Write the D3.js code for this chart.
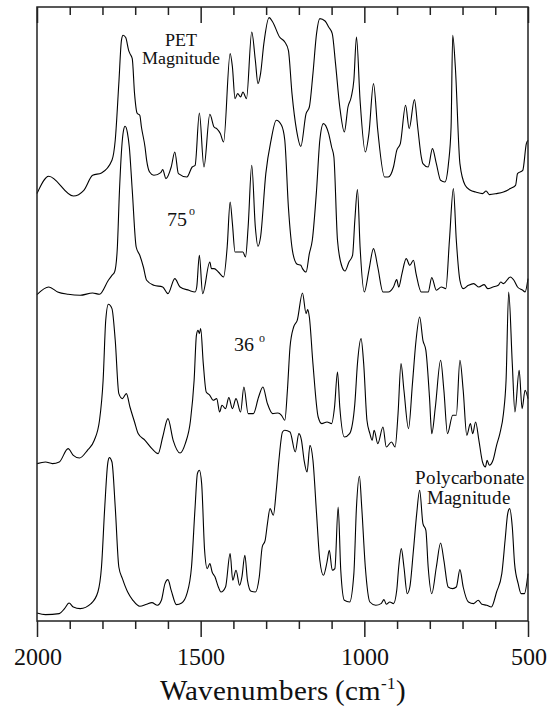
<!DOCTYPE html>
<html><head><meta charset="utf-8">
<script src="https://cdn.jsdelivr.net/npm/d3@7"></script>
<style>
@font-face{font-family:"SerifLocal";src:local("Liberation Serif"),local("LiberationSerif"),local("LiberationSerif-Regular"),local("Times New Roman"),local("TimesNewRomanPSMT"),local("DejaVu Serif"),local("DejaVuSerif");}
body{margin:0;background:#fff}
svg{display:block}
svg text{font-family:"SerifLocal","Liberation Serif","Times New Roman","DejaVu Serif",serif !important}
</style>
</head><body>
<svg id="chart" width="548" height="709"></svg>
<script>
// Tick labels (wavenumbers, cm-1)
const majorTicks = [2000, 1500, 1000, 500];
const minorTicks = [1900, 1800, 1700, 1600, 1400, 1300, 1200, 1100, 900, 800, 700, 600];

// Spectra: [wavenumber, stacked intensity (arbitrary units)]
const petMagnitude = [[2000,427.4],[1964,444.7],[1889,425],[1857,430.7],[1830,445.7],[1803,448],[1771,460.7],[1761,480.7],[1750,537.7],[1742,580.7],[1737,585.7],[1729,583.4],[1720,570.7],[1716,567.4],[1709,562.4],[1702,527.4],[1694,507.7],[1686,505.7],[1681,494],[1670,474],[1665,460.7],[1656,449],[1643,445.7],[1622,448.4],[1616,451.4],[1606,442.4],[1590,454],[1579,469],[1568,447.4],[1542,444],[1526,454],[1517,455.7],[1504,508],[1490,454],[1472,506.7],[1459,494],[1451,492.4],[1440,487.4],[1430,479],[1410,567.4],[1403,554],[1395,522.4],[1387,527.4],[1378,524],[1371,529],[1360,522.4],[1344,589],[1333,560.7],[1325,537.4],[1317,547.4],[1307,577.4],[1291,603.4],[1280,599],[1259,584],[1243,579],[1232,570.7],[1221,527.4],[1207,490.7],[1194,474.7],[1178,507.4],[1168,514],[1157,547.4],[1146,587.4],[1136,602.4],[1120,600],[1109,594],[1098,587.4],[1088,557.4],[1075,514],[1061,489],[1050,514],[1040,524],[1032,540.7],[1024,584],[1013,520.7],[997,469],[986,487.4],[972,537.4],[959,490.7],[938,444],[927,444],[911,454],[901,470.7],[890,477.4],[874,515.7],[863,492.4],[847,521.4],[837,494],[826,464],[821,457.4],[805,454],[792,472.4],[780,457.4],[767,440.7],[754,439],[743,457.4],[735,494],[730,585.7],[722,554],[708,457.4],[692,435.7],[676,430.7],[660,429],[639,427.4],[628,430],[618,426.4],[596,427.4],[575,429],[554,432.4],[538,435.7],[532,447.4],[516,450.7],[505,477.4],[500,480.7]];

const angle75 = [[2000,326.4],[1964,334],[1937,329],[1905,326.7],[1868,325.7],[1830,328],[1809,326.7],[1782,340.7],[1771,345.7],[1763,349],[1755,370.7],[1748,430.7],[1741,474],[1736,490],[1731,494.7],[1724,488.7],[1718,474],[1709,430.7],[1697,374],[1686,365.7],[1675,354],[1665,340.7],[1643,335.7],[1616,334],[1600,327.4],[1579,342.4],[1563,334],[1536,330.7],[1517,329],[1512,334],[1504,365.7],[1494,327.4],[1472,359],[1467,352.4],[1459,352.4],[1446,349],[1430,344],[1419,374],[1410,419],[1403,397.4],[1395,369],[1381,369],[1371,369],[1363,364],[1355,394],[1344,455.7],[1333,394],[1325,374.7],[1317,384],[1301,447.4],[1285,480.7],[1269,500.7],[1253,495.7],[1243,480.7],[1232,414],[1218,367.4],[1205,356.7],[1194,355.7],[1189,352.4],[1178,349],[1168,367.4],[1159,380.7],[1146,430.7],[1136,480.7],[1125,497.4],[1109,487.4],[1100,474],[1093,464],[1082,380.7],[1068,354],[1059,350],[1047,359],[1036,365.7],[1029,400.7],[1021,431.4],[1013,374],[1000,329],[986,350.7],[972,372.4],[959,354],[943,329],[927,329],[911,334],[901,341.4],[895,334],[885,347.4],[872,362.4],[861,355.7],[850,360.7],[842,347.4],[826,329],[805,329],[794,343.4],[780,330.7],[765,334],[751,332.4],[740,380.7],[728,432.4],[719,380.7],[708,340.7],[698,332.4],[682,335.7],[666,337.4],[650,334],[634,336.4],[623,332.4],[607,334],[591,335.7],[583,339],[575,337.4],[554,344],[543,340.7],[532,334],[516,330.7],[509,329],[500,342.4]];

const angle36 = [[2000,157.4],[1974,159],[1953,157.4],[1932,159],[1905,172.4],[1889,165.7],[1870,163],[1846,170.7],[1825,180.7],[1809,200.7],[1798,240.7],[1790,300.7],[1782,316.7],[1771,312.4],[1761,280.7],[1750,227.4],[1739,222.4],[1727,227.4],[1716,214],[1702,199],[1691,187.4],[1670,180.7],[1649,172.4],[1630,167.4],[1616,184],[1600,202.4],[1584,180.7],[1563,168],[1547,177.4],[1531,200.7],[1520,240.7],[1513,285.7],[1508,290.7],[1504,287.4],[1500,292.4],[1492,257.4],[1483,229],[1472,225.7],[1462,220.7],[1451,222.4],[1442,209],[1435,215.7],[1424,212.4],[1414,223.4],[1403,212.4],[1392,222.4],[1378,209],[1368,234],[1355,207.4],[1339,207.4],[1323,224],[1310,234],[1296,217.4],[1280,207.4],[1264,208],[1253,205.7],[1243,200.7],[1235,230.7],[1227,274],[1216,294],[1205,300.7],[1189,328],[1178,307.4],[1173,311.4],[1168,304],[1157,257.4],[1141,204],[1130,197.4],[1114,199],[1100,197.4],[1091,214],[1082,249],[1075,214],[1061,184],[1045,187.4],[1029,217.4],[1021,257.4],[1010,282.4],[1002,257.4],[992,200.7],[983,187.4],[976,180.7],[970,190.7],[959,177.4],[943,194],[933,174],[917,179],[906,174],[897,207.4],[888,257.4],[879,230.7],[865,192.4],[853,237.4],[842,280.7],[831,304],[821,280.7],[812,270.7],[801,224],[794,187.4],[783,214],[767,260.7],[757,230.7],[746,187.4],[730,205.7],[719,205.7],[708,260.7],[698,230.7],[687,185.7],[676,197.4],[669,187.4],[660,199],[650,180.7],[639,159],[630,154],[625,160.7],[618,155.7],[607,160.7],[596,175.7],[586,187.4],[575,207.4],[567,240.7],[559,329],[548,257.4],[540,209],[527,250.7],[518,212.4],[509,230.7],[500,222.4]];

const polycarbonateMagnitude = [[2000,8],[1974,6.4],[1932,7.4],[1916,12.4],[1902,18],[1889,14],[1868,12.4],[1835,17.4],[1814,29],[1803,54],[1793,114],[1784,157.4],[1779,163.4],[1771,159],[1761,114],[1750,54],[1739,42.4],[1723,29],[1707,20.7],[1686,14.7],[1665,16.7],[1649,18.4],[1632,15.7],[1620,20.7],[1609,37.4],[1600,41.4],[1590,30.7],[1574,16.4],[1558,18],[1542,27.4],[1528,54],[1517,114],[1510,147.4],[1504,150.7],[1497,137.4],[1488,70.7],[1480,52.4],[1472,57.4],[1465,49],[1456,44],[1446,34],[1438,29],[1424,34],[1410,67.4],[1402,40.7],[1392,50.7],[1381,35.7],[1374,44],[1365,65.7],[1357,40.7],[1346,29.7],[1333,29],[1321,44],[1312,74],[1303,80.7],[1296,97.4],[1288,112.4],[1278,105.7],[1269,130.7],[1261,160.7],[1250,189],[1243,190.7],[1227,189],[1211,169],[1200,187.4],[1192,180.7],[1184,160.7],[1175,149],[1166,175.7],[1157,160.7],[1146,107.4],[1136,60.7],[1125,45.7],[1114,59],[1107,70.7],[1098,50.7],[1090,52.4],[1080,114],[1072,50.7],[1061,20.7],[1045,19],[1032,47.4],[1024,114],[1015,144.7],[1008,114],[997,54],[983,19],[965,15.7],[949,17.4],[940,21.4],[933,16.7],[922,19],[911,17.4],[901,30.7],[895,54],[887,72.4],[879,54],[869,27.4],[861,34],[850,70.7],[840,107.4],[831,130.7],[821,97.4],[812,90.7],[805,54],[794,27.4],[780,54],[767,78],[757,60.7],[744,34],[730,32.4],[719,34],[708,51.4],[698,34],[682,19],[666,17.4],[652,20.7],[641,16.7],[626,15.7],[612,14],[596,29],[580,47.4],[570,80.7],[562,107.4],[556,112.4],[548,94],[541,57.4],[530,37.4],[521,27.4],[511,27.4],[500,47.4]];

const spectra = [petMagnitude, angle75, angle36, polycarbonateMagnitude];

const svg = d3.select("#chart");
const L = 37, R = 528, T = 7, B = 621;
const x = d3.scaleLinear().domain([2000, 500]).range([L, R]);
const y = d3.scaleLinear().domain([0, 614]).range([B, T]);

const line = d3.line().x(d => x(d[0])).y(d => y(d[1])).curve(d3.curveMonotoneX);

svg.append("g").selectAll("path").data(spectra).join("path")
  .attr("d", line).attr("fill", "none").attr("stroke", "#000").attr("stroke-width", 1.1);

// Frame
svg.append("rect").attr("x", L).attr("y", T).attr("width", R - L).attr("height", B - T)
  .attr("fill", "none").attr("stroke", "#222").attr("stroke-width", 1.5);

function styleAxis(g){ g.select(".domain").remove(); g.selectAll("line").attr("stroke","#222").attr("stroke-width",1.5); }

// Bottom axis (outward ticks)
svg.append("g").attr("transform", `translate(0,${B})`)
  .call(d3.axisBottom(x).tickValues(minorTicks).tickSize(8).tickFormat(""))
  .call(styleAxis);
svg.append("g").attr("transform", `translate(0,${B})`)
  .call(d3.axisBottom(x).tickValues(majorTicks).tickSize(16).tickPadding(11).tickFormat(d3.format("d")))
  .call(styleAxis)
  .attr("font-size", 24)
  .call(g => g.selectAll("text").attr("fill", "#111"));

// Top axis (inward ticks)
svg.append("g").attr("transform", `translate(0,${T})`)
  .call(d3.axisBottom(x).tickValues(minorTicks).tickSize(8).tickFormat(""))
  .call(styleAxis);
svg.append("g").attr("transform", `translate(0,${T})`)
  .call(d3.axisBottom(x).tickValues(majorTicks).tickSize(16).tickFormat(""))
  .call(styleAxis);

// Axis title
const title = svg.append("text").attr("x", (L + R) / 2).attr("y", 700)
  .attr("text-anchor", "middle").attr("font-size", 29).attr("fill", "#111");
title.append("tspan").text("Wavenumbers (cm");
title.append("tspan").attr("font-size", 17).attr("dy", -11).text("-1");
title.append("tspan").attr("dy", 11).text(")");

// Annotations
function label(tx, ty, str, size){
  svg.append("text").attr("x", tx).attr("y", ty).attr("text-anchor", "middle")
    .attr("fill", "#111").attr("font-size", size).text(str);
}
label(181, 45.5, "PET", 17.5);
label(181, 64, "Magnitude", 17.5);
label(469, 484, "Polycarbonate", 18.5);
label(468.5, 504, "Magnitude", 18.5);

function angleLabel(tx, ty, str, ox, oy){
  svg.append("text").attr("x", tx).attr("y", ty).attr("font-size", 20).attr("fill", "#111").text(str);
  svg.append("text").attr("x", ox).attr("y", oy).attr("font-size", 12).attr("fill", "#111").text("o");
}
angleLabel(167, 226, "75", 189, 215);
angleLabel(234, 350.7, "36", 258.5, 341.7);
</script>
</body></html>
